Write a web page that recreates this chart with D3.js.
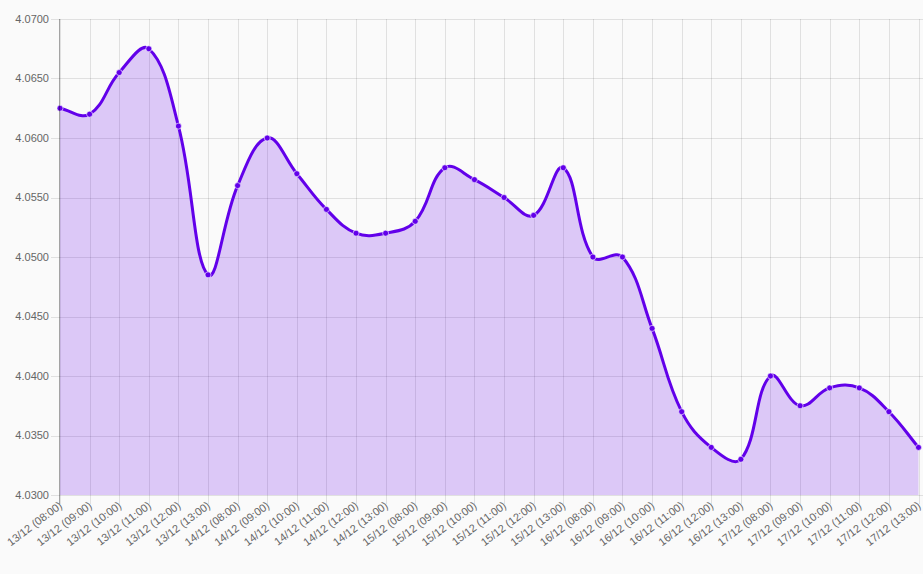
<!DOCTYPE html>
<html>
<head>
<meta charset="utf-8">
<script src="https://cdn.jsdelivr.net/npm/d3@7"></script>
<style>
  body { margin: 0; background: #fafafa; }
  svg { display: block; font-family: "Liberation Sans", Arial, sans-serif; }
</style>
</head>
<body>
<svg></svg>
<script>
const labels = [
  "13/12 (08:00)", "13/12 (09:00)", "13/12 (10:00)", "13/12 (11:00)", "13/12 (12:00)", "13/12 (13:00)",
  "14/12 (08:00)", "14/12 (09:00)", "14/12 (10:00)", "14/12 (11:00)", "14/12 (12:00)", "14/12 (13:00)",
  "15/12 (08:00)", "15/12 (09:00)", "15/12 (10:00)", "15/12 (11:00)", "15/12 (12:00)", "15/12 (13:00)",
  "16/12 (08:00)", "16/12 (09:00)", "16/12 (10:00)", "16/12 (11:00)", "16/12 (12:00)", "16/12 (13:00)",
  "17/12 (08:00)", "17/12 (09:00)", "17/12 (10:00)", "17/12 (11:00)", "17/12 (12:00)", "17/12 (13:00)"
];
const values = [
  4.0625, 4.0620, 4.0655, 4.0675, 4.0610, 4.0485,
  4.0560, 4.0600, 4.0570, 4.0540, 4.0520, 4.0520,
  4.0530, 4.0575, 4.0565, 4.0550, 4.0535, 4.0575,
  4.0500, 4.0500, 4.0440, 4.0370, 4.0340, 4.0330,
  4.0400, 4.0375, 4.0390, 4.0390, 4.0370, 4.0340
];
const yTicks = [4.030, 4.035, 4.040, 4.045, 4.050, 4.055, 4.060, 4.065, 4.070];

const width = 923;
const height = 574;
let margin = {top: 19, bottom: 79, left: 60, right: 4.5};

let svg = d3.select("svg").attr("width", width).attr("height", height);

let xScale = d3.scalePoint().domain(labels).range([margin.left, width - margin.right]);
let yScale = d3.scaleLinear().domain([4.03, 4.07]).range([height - margin.bottom, margin.top]);

// spline like chart.js (tension 0.4, distance weighted, capped to the plot area)
function SplineCurve(context) { this._context = context; }
SplineCurve.prototype = {
  areaStart() { this._line = 0; },
  areaEnd() { this._line = NaN; },
  lineStart() { this._pts = []; },
  point(x, y) { this._pts.push({x: +x, y: +y}); },
  lineEnd() {
    let p = this._pts, n = p.length, t = 0.4, ctx = this._context;
    let [x0, x1] = xScale.range(), [y1, y0] = yScale.range();
    let clamp = (v, a, b) => Math.max(Math.min(a, b), Math.min(Math.max(a, b), v));
    let cps = p.map((cur, i) => {
      let prev = p[i - 1] || cur, next = p[i + 1] || cur;
      let d01 = Math.hypot(cur.x - prev.x, cur.y - prev.y);
      let d12 = Math.hypot(next.x - cur.x, next.y - cur.y);
      let s01 = d01 / (d01 + d12) || 0, s12 = d12 / (d01 + d12) || 0;
      let fa = t * s01, fb = t * s12;
      return {
        px: clamp(cur.x - fa * (next.x - prev.x), x0, x1), py: clamp(cur.y - fa * (next.y - prev.y), y0, y1),
        nx: clamp(cur.x + fb * (next.x - prev.x), x0, x1), ny: clamp(cur.y + fb * (next.y - prev.y), y0, y1)
      };
    });
    if (n) {
      if (this._line) ctx.lineTo(p[0].x, p[0].y); else ctx.moveTo(p[0].x, p[0].y);
      for (let i = 1; i < n; i++) {
        ctx.bezierCurveTo(cps[i - 1].nx, cps[i - 1].ny, cps[i].px, cps[i].py, p[i].x, p[i].y);
      }
    }
    if (this._line || (this._line !== 0 && n === 1)) ctx.closePath();
    this._line = 1 - this._line;
  }
};
let curve = ctx => new SplineCurve(ctx);

// grid
let grid = svg.append("g");
grid.selectAll(".vg").data(labels).enter().append("line")
  .attr("x1", d => Math.round(xScale(d)) + 0.5).attr("x2", d => Math.round(xScale(d)) + 0.5)
  .attr("y1", margin.top).attr("y2", height - margin.bottom + 9)
  .attr("stroke", "rgba(0,0,0,0.1)");
grid.selectAll(".hg").data(yTicks).enter().append("line")
  .attr("x1", margin.left - 9).attr("x2", width)
  .attr("y1", d => Math.round(yScale(d)) + 0.5).attr("y2", d => Math.round(yScale(d)) + 0.5)
  .attr("stroke", "rgba(0,0,0,0.1)");

// area + line
let area = d3.area()
  .x((d, i) => xScale(labels[i]))
  .y0(yScale(4.03))
  .y1(d => yScale(d))
  .curve(curve);
let line = d3.line()
  .x((d, i) => xScale(labels[i]))
  .y(d => yScale(d))
  .curve(curve);

svg.append("path").datum(values).attr("d", area).attr("fill", "rgba(98,0,234,0.2)");
svg.append("path").datum(values).attr("d", line)
  .attr("fill", "none").attr("stroke", "#6200ea").attr("stroke-width", 3);

svg.selectAll(".pt").data(values).enter().append("circle")
  .attr("cx", (d, i) => xScale(labels[i]))
  .attr("cy", d => yScale(d))
  .attr("r", 3)
  .attr("fill", "#6200ea")
  .attr("stroke", "rgba(255,255,255,0.6)")
  .attr("stroke-width", 1);

// axis line
svg.append("line")
  .attr("x1", margin.left - 0.5).attr("x2", margin.left - 0.5)
  .attr("y1", margin.top).attr("y2", height - margin.bottom + 9)
  .attr("stroke", "rgba(0,0,0,0.35)");

// y labels
svg.selectAll(".yl").data(yTicks).enter().append("text")
  .attr("x", margin.left - 11)
  .attr("y", d => yScale(d))
  .attr("dy", "0.35em")
  .attr("text-anchor", "end")
  .attr("font-size", 11)
  .attr("fill", "#666")
  .text(d => d3.format(".4f")(d));

// x labels
svg.selectAll(".xl").data(labels).enter().append("text")
  .attr("transform", d => `translate(${xScale(d) + 3}, ${height - margin.bottom + 12}) rotate(-37)`)
  .attr("text-anchor", "end")
  .attr("font-size", 11)
  .attr("fill", "#666")
  .text(d => d);
</script>
</body>
</html>
